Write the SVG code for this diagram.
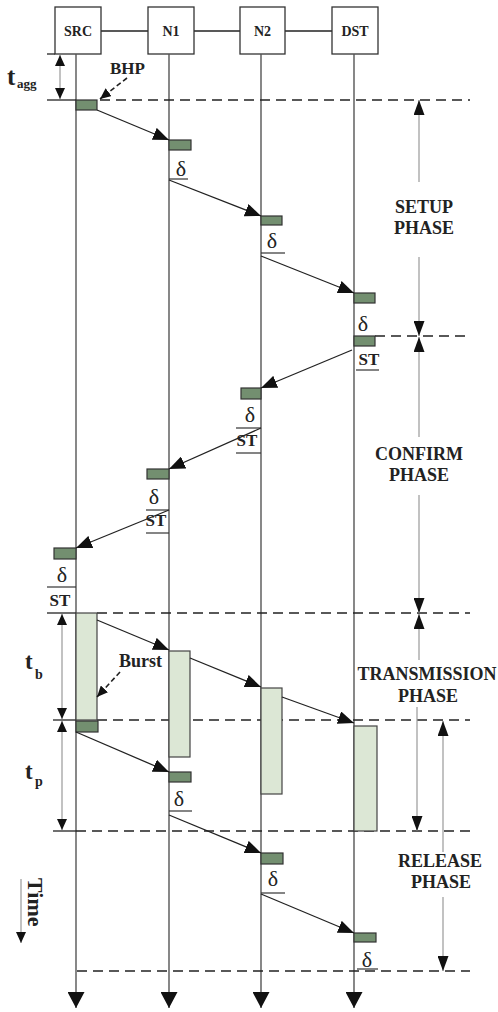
<svg xmlns="http://www.w3.org/2000/svg" width="498" height="1012" viewBox="0 0 498 1012">
<defs>
<style>
.box{fill:#fff;stroke:#333;stroke-width:1.3}
.nl{font-family:"Liberation Serif",serif;font-weight:bold;font-size:14px;fill:#222;text-anchor:middle}
.life{stroke:#555;stroke-width:1.4;fill:none}
.msg{stroke:#222;stroke-width:1.3;fill:none;marker-end:url(#ah)}
.dash{stroke:#222;stroke-width:1.7;stroke-dasharray:10 6;fill:none}
.tick{stroke:#222;stroke-width:1.3;fill:none}
.ctl{fill:#738f70;stroke:#333;stroke-width:1.2}
.burst{fill:#dce7d5;stroke:#444;stroke-width:1.2}
.d{font-family:"Liberation Serif",serif;font-size:22px;fill:#222;text-anchor:middle}
.st{font-family:"Liberation Serif",serif;font-weight:bold;font-size:17px;fill:#222;text-anchor:middle}
.ul{stroke:#333;stroke-width:1.2}
.ph{font-family:"Liberation Serif",serif;font-weight:bold;font-size:18px;fill:#222;text-anchor:middle}
.pa{stroke:#999;stroke-width:1.2;fill:none}
.lbl{font-family:"Liberation Serif",serif;font-weight:bold;fill:#222}
.da{stroke:#222;stroke-width:1.6;stroke-dasharray:5 3;fill:none;marker-end:url(#dah)}
</style>
<marker id="ah" markerUnits="userSpaceOnUse" markerWidth="16" markerHeight="13" refX="16" refY="6.5" orient="auto"><path d="M0,0 L16,6.5 L0,13 z" fill="#111"/></marker>
<marker id="pah" markerUnits="userSpaceOnUse" markerWidth="15" markerHeight="11" refX="15" refY="5.5" orient="auto-start-reverse"><path d="M0,0 L15,5.5 L0,11 z" fill="#111"/></marker>
<marker id="sah" markerUnits="userSpaceOnUse" markerWidth="11" markerHeight="10" refX="11" refY="5" orient="auto-start-reverse"><path d="M0,0 L11,5 L0,10 z" fill="#111"/></marker>
<marker id="lah" markerUnits="userSpaceOnUse" markerWidth="16" markerHeight="17" refX="16" refY="8.5" orient="auto"><path d="M0,0 L16,8.5 L0,17 z" fill="#111"/></marker>
<marker id="dah" markerUnits="userSpaceOnUse" markerWidth="11" markerHeight="10" refX="11" refY="5" orient="auto"><path d="M0,0 L11,5 L0,10 z" fill="#111"/></marker>
</defs>

<g id="node-links">
<line x1="101" y1="31" x2="148" y2="31" class="tick"/>
<line x1="194" y1="31" x2="240" y2="31" class="tick"/>
<line x1="285" y1="31" x2="332" y2="31" class="tick"/>
</g>

<g id="node-src"><rect class="box" x="55" y="7" width="46" height="47"/><text class="nl" x="78" y="36">SRC</text></g>
<g id="node-n1"><rect class="box" x="148" y="7" width="46" height="47"/><text class="nl" x="171" y="36">N1</text></g>
<g id="node-n2"><rect class="box" x="240" y="7" width="45" height="47"/><text class="nl" x="262.5" y="36">N2</text></g>
<g id="node-dst"><rect class="box" x="332" y="7" width="46" height="47"/><text class="nl" x="355" y="36">DST</text></g>

<g id="lifelines">
<line class="life" x1="76" y1="54" x2="76" y2="1008" marker-end="url(#lah)"/>
<line class="life" x1="169" y1="54" x2="169" y2="1008" marker-end="url(#lah)"/>
<line class="life" x1="261" y1="54" x2="261" y2="1008" marker-end="url(#lah)"/>
<line class="life" x1="354" y1="54" x2="354" y2="1008" marker-end="url(#lah)"/>
</g>

<g id="phase-lines">
<line class="tick" x1="47" y1="54" x2="55" y2="54"/>
<line class="tick" x1="47" y1="100" x2="76" y2="100"/>
<line class="dash" x1="100" y1="100" x2="470" y2="100"/>
<line class="dash" x1="375" y1="336" x2="470" y2="336"/>
<line class="tick" x1="47" y1="613" x2="76" y2="613"/>
<line class="dash" x1="97" y1="613" x2="470" y2="613"/>
<line class="tick" x1="53" y1="720" x2="76" y2="720"/>
<line class="dash" x1="97" y1="720" x2="470" y2="720"/>
<line class="tick" x1="53" y1="831" x2="76" y2="831"/>
<line class="dash" x1="76" y1="831" x2="470" y2="831"/>
<line class="dash" x1="77" y1="971" x2="470" y2="971"/>
</g>

<g id="bursts">
<rect class="burst" x="76" y="613" width="21" height="107"/>
<rect class="burst" x="169" y="651" width="21" height="106"/>
<rect class="burst" x="261" y="688" width="21" height="106"/>
<rect class="burst" x="354" y="726" width="23" height="105"/>
</g>

<g id="control-packets">
<rect class="ctl" x="76" y="100" width="21" height="10"/>
<rect class="ctl" x="169" y="140" width="22" height="10"/>
<rect class="ctl" x="261" y="216" width="21" height="9"/>
<rect class="ctl" x="354" y="293" width="21" height="10"/>
<rect class="ctl" x="354" y="336" width="21" height="10"/>
<rect class="ctl" x="241" y="388" width="20" height="11"/>
<rect class="ctl" x="147" y="469" width="22" height="10"/>
<rect class="ctl" x="54" y="548" width="22" height="11"/>
<rect class="ctl" x="76" y="721" width="22" height="11"/>
<rect class="ctl" x="169" y="772" width="22" height="10"/>
<rect class="ctl" x="261" y="853" width="22" height="11"/>
<rect class="ctl" x="354" y="933" width="22" height="9"/>
</g>

<g id="connectors">
<line class="msg" x1="97" y1="110" x2="169" y2="140"/>
<line class="msg" x1="169" y1="180" x2="261" y2="216"/>
<line class="msg" x1="261" y1="256" x2="354" y2="293"/>
<line class="msg" x1="352" y1="350" x2="261" y2="388"/>
<line class="msg" x1="261" y1="428" x2="169" y2="469"/>
<line class="msg" x1="169" y1="510" x2="76" y2="548"/>
<line class="msg" x1="97" y1="620" x2="169" y2="650"/>
<line class="msg" x1="190" y1="658" x2="261" y2="687"/>
<line class="msg" x1="282" y1="697" x2="354" y2="723"/>
<line class="msg" x1="76" y1="732" x2="169" y2="772"/>
<line class="msg" x1="169" y1="815" x2="261" y2="853"/>
<line class="msg" x1="261" y1="894" x2="354" y2="933"/>
</g>

<g id="delays">
<text class="d" x="181" y="176">δ</text><line class="ul" x1="169" y1="179" x2="188" y2="179"/>
<text class="d" x="272" y="248">δ</text><line class="ul" x1="261" y1="253" x2="285" y2="253"/>
<text class="d" x="363" y="331">δ</text>
<text class="st" x="369" y="365">ST</text><line class="ul" x1="356" y1="370" x2="379" y2="370"/>
<text class="d" x="250" y="422">δ</text><line class="ul" x1="236" y1="428" x2="261" y2="428"/>
<text class="st" x="247" y="446">ST</text><line class="ul" x1="236" y1="453" x2="261" y2="453"/>
<text class="d" x="154" y="504">δ</text><line class="ul" x1="146" y1="510" x2="169" y2="510"/>
<text class="st" x="156" y="526">ST</text><line class="ul" x1="146" y1="533" x2="169" y2="533"/>
<text class="d" x="62" y="582">δ</text><line class="ul" x1="47" y1="587" x2="76" y2="587"/>
<text class="st" x="60" y="606">ST</text>
<text class="d" x="179" y="806">δ</text><line class="ul" x1="169" y1="811" x2="192" y2="811"/>
<text class="d" x="273" y="886">δ</text><line class="ul" x1="261" y1="893" x2="285" y2="893"/>
<text class="d" x="367" y="967">δ</text><line class="ul" x1="357" y1="969" x2="378" y2="969"/>
</g>

<g id="phase-setup">
<line class="pa" x1="419" y1="182" x2="419" y2="100" marker-end="url(#pah)"/>
<line class="pa" x1="419" y1="257" x2="419" y2="336" marker-end="url(#pah)"/>
<text class="ph" x="424" y="213">SETUP</text><text class="ph" x="424" y="234">PHASE</text>
</g>
<g id="phase-confirm">
<line class="pa" x1="419" y1="437" x2="419" y2="337" marker-end="url(#pah)"/>
<line class="pa" x1="419" y1="495" x2="419" y2="613" marker-end="url(#pah)"/>
<text class="ph" x="419" y="460">CONFIRM</text><text class="ph" x="419" y="481">PHASE</text>
</g>
<g id="phase-transmission">
<line class="pa" x1="419" y1="660" x2="419" y2="614" marker-end="url(#pah)"/>
<line class="pa" x1="417" y1="707" x2="417" y2="831" marker-end="url(#pah)"/>
<text class="ph" x="427" y="680">TRANSMISSION</text><text class="ph" x="428" y="702">PHASE</text>
</g>
<g id="phase-release">
<line class="pa" x1="443" y1="852" x2="443" y2="721" marker-end="url(#pah)"/>
<line class="pa" x1="443" y1="897" x2="443" y2="971" marker-end="url(#pah)"/>
<text class="ph" x="440" y="867">RELEASE</text><text class="ph" x="441" y="888">PHASE</text>
</g>

<g id="t-agg">
<line class="pa" x1="60" y1="55" x2="60" y2="99" marker-start="url(#sah)" marker-end="url(#sah)"/>
<text class="lbl" x="7" y="85" font-size="25">t</text><text class="lbl" x="17" y="88" font-size="13">agg</text>
</g>
<g id="t-b">
<line class="pa" x1="62" y1="614" x2="62" y2="719" marker-start="url(#sah)" marker-end="url(#sah)"/>
<text class="lbl" x="25" y="669" font-size="23">t</text><text class="lbl" x="35" y="679" font-size="14">b</text>
</g>
<g id="t-p">
<line class="pa" x1="62" y1="721" x2="62" y2="830" marker-start="url(#sah)" marker-end="url(#sah)"/>
<text class="lbl" x="25" y="779" font-size="23">t</text><text class="lbl" x="35" y="786" font-size="14">p</text>
</g>

<g id="bhp-label">
<text class="lbl" x="110" y="74" font-size="17">BHP</text>
<line class="da" x1="127" y1="78" x2="100" y2="99"/>
</g>
<g id="burst-label">
<text class="lbl" x="119" y="667" font-size="18">Burst</text>
<line class="da" x1="120" y1="672" x2="97" y2="697"/>
</g>

<g id="time-axis">
<line class="pa" x1="21" y1="879" x2="21" y2="943" marker-end="url(#sah)"/>
<text class="lbl" font-size="22" transform="translate(28,878) rotate(90)">Time</text>
</g>
</svg>
